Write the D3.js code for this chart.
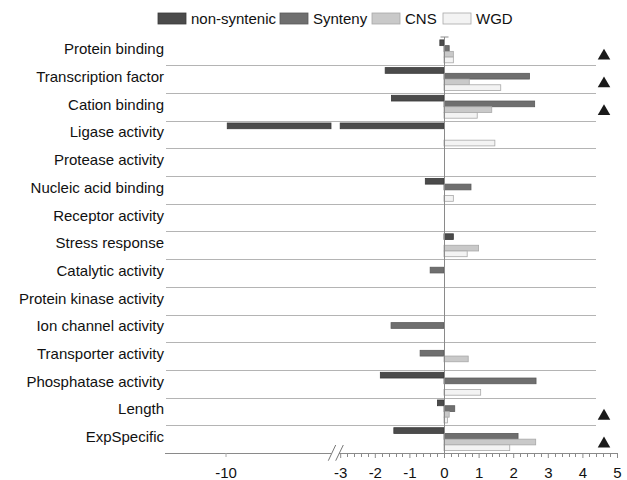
<!DOCTYPE html>
<html><head><meta charset="utf-8">
<script src="https://cdn.jsdelivr.net/npm/d3@7"></script>
<style>
body{margin:0;background:#fff;}
text{font-family:"Liberation Sans",Arial,sans-serif;}
</style></head>
<body>
<svg id="c" width="627" height="480"></svg>
<script>
const categories = ["Protein binding","Transcription factor","Cation binding","Ligase activity","Protease activity","Nucleic acid binding","Receptor activity","Stress response","Catalytic activity","Protein kinase activity","Ion channel activity","Transporter activity","Phosphatase activity","Length","ExpSpecific"];
const seriesNames = ["non-syntenic","Synteny","CNS","WGD"];
const nonSyntenic = [-0.12,-1.7,-1.52,-9.95,null,-0.54,null,0.27,null,null,null,null,-1.84,-0.19,-1.45];
const synteny     = [0.15,2.47,2.62,null,null,0.78,null,null,-0.4,null,-1.53,-0.69,2.66,0.31,2.14];
const cns         = [0.27,0.73,1.38,null,null,null,null,1.0,null,null,null,0.70,null,0.15,2.65];
const wgd         = [0.27,1.64,0.96,1.47,null,0.27,null,0.67,null,null,null,null,1.06,0.10,1.9];
const significant = [1,1,1,0,0,0,0,0,0,0,0,0,0,1,1];
const majorTicks = [-3,-2,-1,0,1,2,3,4,5];
const leftTicks = [-10];

const fills = ["#4b4b4b","#6f6f6f","#c9c9c9","#f3f3f3"];
const strokes = ["#3a3a3a","#5a5a5a","#a8a8a8","#a8a8a8"];
const seriesData = [nonSyntenic, synteny, cns, wgd];

const svg = d3.select("#c");
const pLeft = 166, pRight = 596, pTop = 37.5, pBottom = 453;
const xR = d3.scaleLinear().domain([-3,5]).range([340.2,617]);
const xL = d3.scaleLinear().domain([-11.75,-6.95]).range([165,331]);
const y = d3.scaleBand().domain(categories).range([pTop,pBottom]).padding(0);
const ys = d3.scaleBand().domain(seriesNames).range([2.4, y.bandwidth()-2.4]).padding(0);

// separators
svg.append("g").selectAll("line").data(categories.slice(1)).join("line")
  .attr("x1",pLeft).attr("x2",pRight)
  .attr("y1",d=>Math.round(y(d))+0.5).attr("y2",d=>Math.round(y(d))+0.5)
  .attr("stroke","#b4b4b4").attr("stroke-width",1);

// category labels
svg.append("g").selectAll("text").data(categories).join("text")
  .attr("x",164).attr("y",d=>y(d)+y.bandwidth()/2+3)
  .attr("text-anchor","end").attr("font-size",15).attr("fill","#111")
  .text(d=>d);

// bars
function segs(v){
  if(v==null) return [];
  if(v >= -3) return [[xR(Math.min(0,v)), xR(Math.max(0,v))]];
  return [[xL(v), xL(-6.95)],[xR(-3), xR(0)]];
}
const barG = svg.append("g");
seriesData.forEach((arr,si)=>{
  arr.forEach((v,ci)=>{
    segs(v).forEach(s=>{
      barG.append("rect")
        .attr("x",s[0]).attr("width",Math.max(0,s[1]-s[0]))
        .attr("y",y(categories[ci])+ys(seriesNames[si]))
        .attr("height",ys.bandwidth())
        .attr("fill",fills[si]).attr("stroke",strokes[si]).attr("stroke-width",0.8);
    });
  });
});

// zero line with cap
const x0 = Math.round(xR(0))+0.5;
svg.append("line").attr("x1",x0).attr("x2",x0).attr("y1",pTop-0.5).attr("y2",pBottom)
  .attr("stroke","#8a8a8a").attr("stroke-width",1);
svg.append("line").attr("x1",x0-4).attr("x2",x0+4).attr("y1",pTop-0.5).attr("y2",pTop-0.5)
  .attr("stroke","#8a8a8a").attr("stroke-width",1);

// triangles
const tri = d3.symbol().type(d3.symbolTriangle).size(68);
svg.append("g").selectAll("path").data(categories.filter((c,i)=>significant[i])).join("path")
  .attr("d",tri).attr("fill","#1a1a1a")
  .attr("transform",d=>`translate(604,${y(d)+18.5})`);

// bottom axis
const axY = 453;
const fmt = d => String(d);
const axG = svg.append("g").attr("transform",`translate(0,${axY})`);
axG.append("line").attr("x1",165).attr("x2",331).attr("y1",0.5).attr("y2",0.5).attr("stroke","#8a8a8a");
axG.append("line").attr("x1",339).attr("x2",xR(5)).attr("y1",0.5).attr("y2",0.5).attr("stroke","#8a8a8a");
// break marks
[[328.3,335.7],[335.7,343.3]].forEach(p=>{
  svg.append("line").attr("x1",p[0]).attr("y1",460.7).attr("x2",p[1]).attr("y2",445)
    .attr("stroke","#777").attr("stroke-width",1);
});
const rAxis = d3.axisBottom(xR).tickValues(majorTicks).tickSize(5).tickPadding(9).tickFormat(fmt);
const gR = axG.append("g").call(rAxis);
gR.select(".domain").remove();
gR.selectAll("line").attr("stroke","#8a8a8a");
gR.selectAll("text").attr("font-size",15).attr("fill","#111").attr("font-family","Liberation Sans, Arial, sans-serif");
const minor = d3.range(-2.8,5,0.2).filter(v=>Math.abs(v-Math.round(v))>0.01);
axG.append("g").selectAll("line").data(minor).join("line")
  .attr("x1",d=>Math.round(xR(d))+0.5).attr("x2",d=>Math.round(xR(d))+0.5)
  .attr("y1",0).attr("y2",4).attr("stroke","#8a8a8a");
const lAxis = d3.axisBottom(xL).tickValues(leftTicks).tickSize(4).tickPadding(10).tickFormat(fmt);
const gL = axG.append("g").call(lAxis);
gL.select(".domain").remove();
gL.selectAll("line").attr("stroke","#aaa");
gL.selectAll("text").attr("font-size",15).attr("fill","#111").attr("font-family","Liberation Sans, Arial, sans-serif");

// legend
const legX = [158,280,372,443];
const leg = svg.append("g");
seriesNames.forEach((n,i)=>{
  leg.append("rect").attr("x",legX[i]).attr("y",13).attr("width",28).attr("height",11)
    .attr("fill",fills[i]).attr("stroke",strokes[i]).attr("stroke-width",0.8);
  leg.append("text").attr("x",legX[i]+33).attr("y",24).attr("font-size",15).attr("fill","#111").text(n);
});
</script>
</body></html>
